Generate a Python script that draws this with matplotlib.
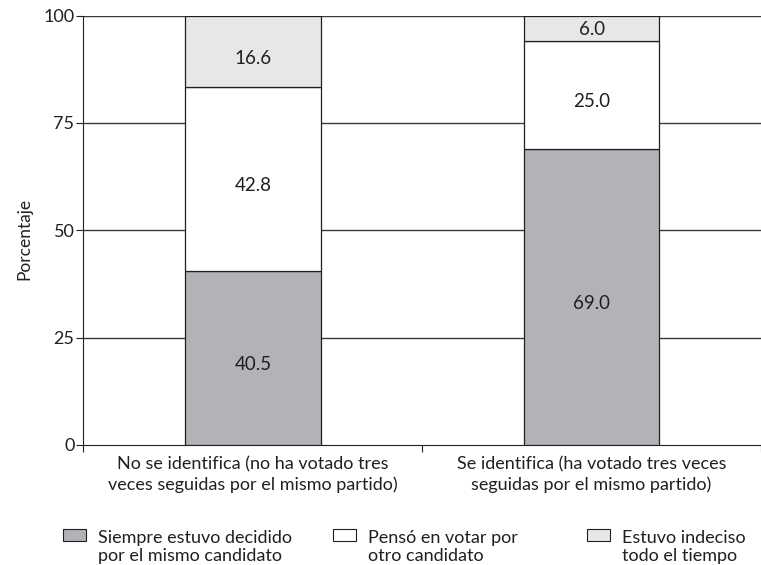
import matplotlib
matplotlib.use('Agg')
import matplotlib.pyplot as plt
from matplotlib.patches import Patch, Rectangle
from matplotlib.legend_handler import HandlerPatch

plt.rcParams['font.family'] = ['Lato', 'DejaVu Sans']

categorias = ['No se identifica (no ha votado tres\nveces seguidas por el mismo partido)',
              'Se identifica (ha votado tres veces\nseguidas por el mismo partido)']
series = ['Siempre estuvo decidido\npor el mismo candidato',
          'Pensó en votar por\notro candidato',
          'Estuvo indeciso\ntodo el tiempo']
decidido = [40.5, 69.0]
penso = [42.8, 25.0]
indeciso = [16.6, 6.0]
colores = ['#b1b3b6', '#ffffff', '#e6e7e8']
tinta = '#231f20'

fig = plt.figure(figsize=(7.61, 5.65), dpi=100)
ax = fig.add_axes([0.1097, 0.2124, 0.8903, 0.760])

x = [0, 1]
abajo = [0, 0]
for vals, col in zip([decidido, penso, indeciso], colores):
    bars = ax.bar(x, vals, 0.4, bottom=abajo, color=col, edgecolor=tinta, linewidth=0.9, zorder=3)
    for b, v, a in zip(bars, vals, abajo):
        # labels sit a little below the middle of the segment
        baja = 1.2 if v > 10 else 0
        ax.text(b.get_x() + b.get_width() / 2, a + v / 2 - baja, '%.1f' % v,
                ha='center', va='center_baseline', fontsize=13.5, color=tinta, zorder=4)
    abajo = [a + v for a, v in zip(abajo, vals)]

ax.set_ylim(0, 100)
ax.set_xlim(-0.5, 1.475)
ax.set_yticks([0, 25, 50, 75, 100])
ax.tick_params(axis='y', labelsize=13, length=5, color=tinta, labelcolor=tinta, pad=1.5)
for y in [25, 50, 75, 100]:
    ax.axhline(y, color='#3a3a3a', linewidth=1.0, zorder=1)

ax.set_xticks([-0.5, 0.5, 1.5])
ax.set_xticklabels([])
ax.set_xticks(x, minor=True)
ax.set_xticklabels(categorias, minor=True, fontsize=13, color=tinta, linespacing=1.3)
ax.tick_params(axis='x', which='major', length=5, color=tinta)
ax.tick_params(axis='x', which='minor', length=0, pad=8)

for s in ['top', 'right']:
    ax.spines[s].set_visible(False)
ax.spines['left'].set_color(tinta)
ax.spines['bottom'].set_color(tinta)

ax.set_ylabel('Porcentaje', fontsize=12.5, color=tinta)
ax.yaxis.set_label_coords(-0.076, 0.48)


# legend box sits on the first line of the label
def caja_arriba(legend, orig_handle, xdescent, ydescent, width, height, fontsize):
    return Rectangle((-xdescent, -ydescent + 0.66 * fontsize), width, height)


for i, (c, s) in enumerate(zip(colores, series)):
    h = Patch(facecolor=c, edgecolor=tinta, linewidth=0.8)
    leg = fig.legend([h], [s], loc='upper left', bbox_to_anchor=([0.0828, 0.4376, 0.7713][i], 0.0624),
                     frameon=False, fontsize=13, handlelength=1.27, handleheight=0.6,
                     handletextpad=0.65, borderpad=0, borderaxespad=0, labelcolor=tinta,
                     handler_map={Patch: HandlerPatch(patch_func=caja_arriba)})
    for t in leg.get_texts():
        t.set_linespacing(1.18)

fig.savefig('out.png', dpi=100)
